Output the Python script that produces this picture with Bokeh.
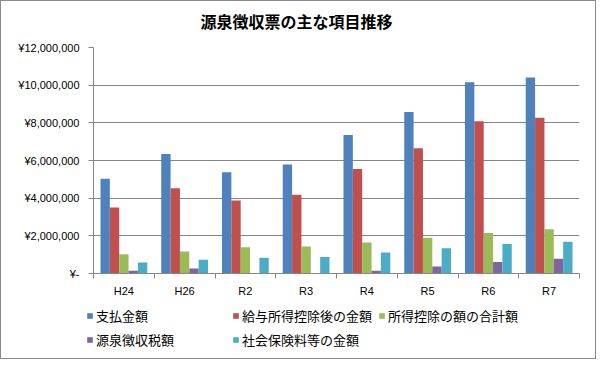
import numpy as np
from bokeh.plotting import figure
from bokeh.layouts import column
from bokeh.models import ColumnDataSource, Range1d, FixedTicker, Legend, LegendItem, Label
from bokeh.transform import dodge
from bokeh.embed import file_html
from bokeh.resources import INLINE

# ---- data ----
categories = ["H24", "H26", "R2", "R3", "R4", "R5", "R6", "R7"]
shiharai = [5030000, 6350000, 5380000, 5790000, 7360000, 8580000, 10150000, 10410000]
kyuyo = [3500000, 4520000, 3870000, 4180000, 5550000, 6650000, 8090000, 8270000]
kojo = [1020000, 1170000, 1390000, 1440000, 1640000, 1900000, 2150000, 2350000]
gensen = [150000, 270000, 0, 0, 150000, 370000, 610000, 780000]
shakai = [580000, 730000, 830000, 880000, 1120000, 1340000, 1570000, 1690000]

series_names = ["支払金額", "給与所得控除後の金額", "所得控除の額の合計額", "源泉徴収税額", "社会保険料等の金額"]
series_keys = ["shiharai", "kyuyo", "kojo", "gensen", "shakai"]
colors = ["#4F81BD", "#C0504D", "#9BBB59", "#8064A2", "#4BACC6"]

yticks = [0, 2000000, 4000000, 6000000, 8000000, 10000000, 12000000]
ytick_labels = ["¥-", "¥2,000,000", "¥4,000,000", "¥6,000,000", "¥8,000,000", "¥10,000,000", "¥12,000,000"]

title_text = "源泉徴収票の主な項目推移"

# ---- build ----
n = len(categories)
centers = list(np.arange(n) + 0.5)
src = ColumnDataSource(dict(x=centers, shiharai=shiharai, kyuyo=kyuyo, kojo=kojo,
                            gensen=gensen, shakai=shakai))

W = 594


def strip(height):
    f = figure(width=W, height=height, output_backend="svg", toolbar_location=None,
               x_range=Range1d(-10, -9), y_range=Range1d(-10, -9),
               x_axis_location=None, y_axis_location=None,
               min_border_left=0, min_border_right=0, min_border_top=0, min_border_bottom=0)
    f.grid.visible = False
    f.outline_line_color = None
    f.background_fill_color = "white"
    f.border_fill_color = "white"
    f.frame_align = False
    return f


# ---- title strip ----
t = strip(38)
t.add_layout(Label(x=295, y=19, x_units="screen", y_units="screen", text=title_text,
                   text_align="center", text_baseline="middle",
                   text_font="Noto Sans CJK JP", text_font_size="16px",
                   text_font_style="bold", text_color="#000000"))

# ---- main chart ----
p = figure(width=W, height=264, output_backend="svg", toolbar_location=None,
           x_range=Range1d(0, n), y_range=Range1d(0, 12000000),
           min_border_left=92, min_border_right=16, min_border_top=8, min_border_bottom=30)
p.frame_align = False
p.outline_line_color = None
p.background_fill_color = "white"
p.border_fill_color = "white"

bw = 0.154
offsets = [-2 * bw, -bw, 0, bw, 2 * bw]
for key, off, col in zip(series_keys, offsets, colors):
    p.vbar(x=dodge("x", off), top=key, width=bw, source=src,
           fill_color=col, line_color=None)

# x axis
p.xaxis.ticker = FixedTicker(ticks=centers, minor_ticks=list(range(n + 1)))
p.xaxis.major_label_overrides = {c: lab for c, lab in zip(centers, categories)}
p.xaxis.major_tick_out = 0
p.xaxis.major_tick_in = 0
p.xaxis.minor_tick_out = 5
p.xaxis.minor_tick_in = 0
p.xaxis.minor_tick_line_color = "#868686"
p.xaxis.axis_line_color = "#868686"
p.xaxis.major_label_standoff = 6
p.xaxis.major_label_text_font = "Liberation Sans"
p.xaxis.major_label_text_font_size = "11px"
p.xaxis.major_label_text_color = "#000000"

# y axis
p.yaxis.ticker = FixedTicker(ticks=yticks, minor_ticks=[])
p.yaxis.major_label_overrides = {tk: lab for tk, lab in zip(yticks, ytick_labels)}
p.yaxis.major_tick_out = 5
p.yaxis.major_tick_in = 0
p.yaxis.major_tick_line_color = "#868686"
p.yaxis.axis_line_color = "#868686"
p.yaxis.major_label_standoff = 9
p.yaxis.major_label_text_font = "Liberation Sans"
p.yaxis.major_label_text_font_size = "11px"
p.yaxis.major_label_text_color = "#000000"

p.xgrid.grid_line_color = None
p.ygrid.ticker = FixedTicker(ticks=yticks)
p.ygrid.grid_line_color = "#868686"

# ---- legend strip (same data, out-of-view renderers carry the legend swatches) ----
q = strip(55)
leg_renderers = []
for key, off, col in zip(series_keys, offsets, colors):
    r = q.vbar(x=dodge("x", off), top=key, width=bw, source=src,
               fill_color=col, line_color=None)
    leg_renderers.append(r)

items = [LegendItem(label=nm, renderers=[r]) for nm, r in zip(series_names, leg_renderers)]
lg = Legend(items=items, location=(85, 9), orientation="horizontal", ncols=3,
            glyph_width=7, glyph_height=7, label_standoff=3,
            label_text_font="Noto Sans CJK JP", label_text_font_size="13px",
            label_text_color="#000000", label_height=19, label_width=131, spacing=5,
            padding=0, margin=0, border_line_color=None,
            background_fill_alpha=0)
q.add_layout(lg, "center")

layout = column(t, p, q, spacing=0, styles={"border": "1px solid #8a8a8a"})

open("out.html", "w").write(file_html(layout, INLINE))
